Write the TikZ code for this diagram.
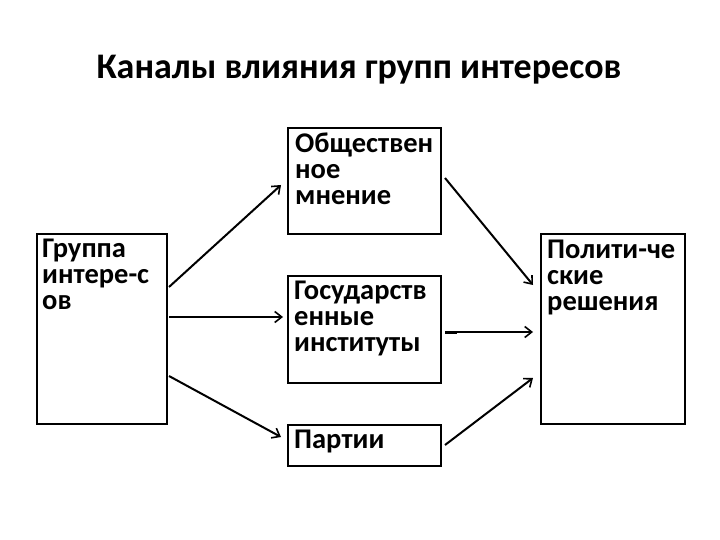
\documentclass[tikz,border=0pt]{standalone}
\usepackage{fontspec}
\setmainfont{Carlito}
\usetikzlibrary{arrows,arrows.meta,positioning,calc}
\tikzset{
    box/.style={draw,line width=2pt,anchor=north west,inner sep=0pt},
    boxtext/.style={anchor=north west,inner sep=0pt,align=left,
        font=\fontsize{28.5}{26}\selectfont\bfseries},
    pre/.style={-{Straight Barb[length=7pt,width=11pt,line width=1.6pt]},line width=2pt}
}

\begin{document}
\begin{tikzpicture}[x=1pt,y=-1pt]
    \fill[white] (0,0) rectangle (720,540);
    \useasboundingbox (0,0) rectangle (720,540);

    \node (title) [anchor=base,font=\fontsize{36}{40}\selectfont\bfseries] at (359,79) {Каналы влияния групп интересов};

    \node[box,minimum width=130pt,minimum height=190pt] (grp) at (36,233) {};
    \node[box,minimum width=153pt,minimum height=106pt] (obsh) at (287,127) {};
    \node[box,minimum width=153pt,minimum height=107pt] (gos) at (287,275) {};
    \node[box,minimum width=153pt,minimum height=41pt] (part) at (287,424) {};
    \node[box,minimum width=144pt,minimum height=190pt] (pol) at (540,233) {};

    \node[boxtext] (grp text) at ($(grp.north west)+(6,6)$) {Группа\\интере-с\\ов};
    \node[boxtext] (obsh text) at ($(obsh.north west)+(8,6)$) {Обществен\\ное\\мнение};
    \node[boxtext] (gos text) at ($(gos.north west)+(7,6)$) {Государств\\енные\\институты};
    \node[boxtext] (part text) at ($(part.north west)+(7,6)$) {Партии};
    \node[boxtext] (pol text) at ($(pol.north west)+(7,7)$) {Полити-че\\ские\\решения};

    \draw[pre] ($(grp.north east)+(1,54)$) -- ($(obsh.north west)+(-6,58)$);
    \draw[pre] ($(grp.north east)+(1,84)$) -- ($(gos.north west)+(-4,42)$);
    \draw[pre] ($(grp.north east)+(1,143)$) -- ($(part.north west)+(-6,13)$);

    \draw[pre] ($(obsh.north east)+(3,51)$) -- ($(pol.north west)+(-7,52)$);
    \draw[pre] ($(gos.north east)+(3,57)$) -- ($(pol.north west)+(-7,99)$);
    \draw[line width=3pt] ($(gos.north east)+(3,57)$) -- ($(gos.north east)+(15,57)$);
    \draw[pre] ($(part.north east)+(3,21)$) -- ($(pol.north west)+(-7,145)$);
\end{tikzpicture}
\end{document}
